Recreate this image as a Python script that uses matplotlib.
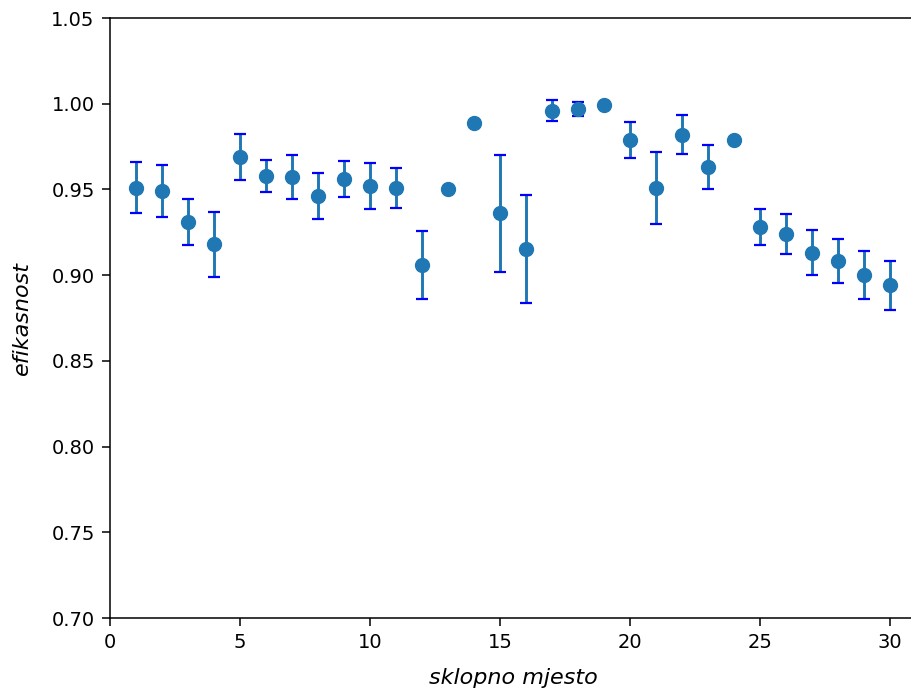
import matplotlib
matplotlib.use("Agg")
import matplotlib.pyplot as plt

sklopno_mjesto = list(range(1, 31))
efikasnost = [0.951, 0.949, 0.931, 0.918, 0.969, 0.958, 0.957, 0.946, 0.956, 0.952,
              0.951, 0.906, 0.950, 0.989, 0.936, 0.915, 0.996, 0.997, 0.999, 0.979,
              0.951, 0.982, 0.963, 0.979, 0.928, 0.924, 0.913, 0.908, 0.900, 0.894]
pogreska = [0.0148, 0.0152, 0.0132, 0.0189, 0.0133, 0.0094, 0.0128, 0.0133, 0.0104, 0.0133,
            0.0117, 0.0199, 0.0, 0.0, 0.0340, 0.0315, 0.0061, 0.0041, 0.0, 0.0104,
            0.0209, 0.0114, 0.0128, 0.0, 0.0104, 0.0117, 0.0132, 0.0128, 0.0141, 0.0141]

plt.rcParams['font.size'] = 14

fig = plt.figure(figsize=(9.12, 6.94), dpi=100)
ax = fig.add_axes([110 / 912, 76 / 694, 31 * 26 / 912, 600 / 694])

data_line, caplines, barcols = ax.errorbar(sklopno_mjesto, efikasnost, yerr=pogreska,
                                           fmt='o', markersize=10, elinewidth=2.1,
                                           capsize=4.6, capthick=1.6, color='tab:blue')
# kapice su plave
for cap in caplines:
    cap.set_markeredgecolor('b')
    cap.set_markerfacecolor('b')

ax.set_xlim(0, 31)
ax.set_ylim(0.70, 1.05)
ax.set_xticks([0, 5, 10, 15, 20, 25, 30])
ax.set_yticks([0.70, 0.75, 0.80, 0.85, 0.90, 0.95, 1.00, 1.05])
ax.tick_params(length=6, width=1.1, pad=5)
for s in ax.spines.values():
    s.set_linewidth(1.1)

ax.set_xlabel('sklopno mjesto', style='italic', fontsize=16, labelpad=11)
ax.set_ylabel('efikasnost', style='italic', fontsize=16, labelpad=14)

fig.savefig('out.png', dpi=100)
